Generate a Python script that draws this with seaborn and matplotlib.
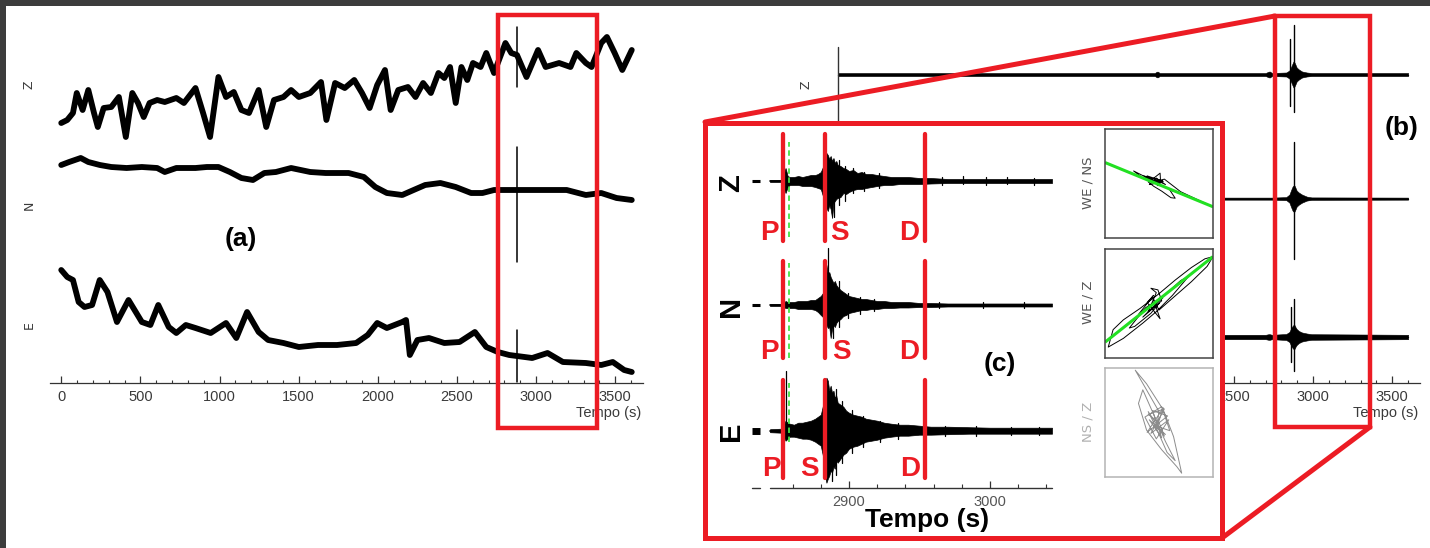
import matplotlib
matplotlib.use("Agg")
import matplotlib.pyplot as plt
from matplotlib.patches import Rectangle
from matplotlib.ticker import MultipleLocator, FixedLocator
import pandas as pd
import seaborn as sns

sns.set_theme(style="white")
plt.rcParams["font.family"] = ["Liberation Sans", "DejaVu Sans"]

# ---------------------------------------------------------------- data
components = ["Z", "N", "E"]

# (a) raw one-hour record: time (s) and trace level (display units above the time axis)
t_z = [0, 38, 74, 98, 135, 171, 207, 231, 268, 316, 364, 408, 449, 485, 521, 558, 606, 654,
       727, 775, 848, 896, 940, 993, 1041, 1090, 1138, 1186, 1247, 1295, 1344, 1404, 1452,
       1501, 1573, 1641, 1675, 1730, 1791, 1851, 1900, 1948, 1996, 2045, 2081, 2129, 2190,
       2238, 2286, 2335, 2383, 2420, 2456, 2492, 2528, 2565, 2601, 2649, 2685, 2734, 2806,
       2843, 2879, 2939, 3012, 3060, 3145, 3217, 3254, 3314, 3350, 3411, 3447, 3496, 3544, 3604]
z_raw = [260, 263, 270, 290, 273, 293, 270, 256, 275, 276, 286, 246, 290, 280, 266, 280, 283,
         281, 285, 280, 295, 270, 246, 306, 286, 291, 273, 270, 293, 256, 283, 286, 293, 286,
         290, 301, 263, 300, 295, 303, 290, 275, 298, 313, 273, 293, 296, 286, 300, 290, 310,
         305, 316, 280, 316, 303, 320, 316, 330, 310, 340, 330, 328, 306, 333, 316, 320, 316,
         330, 320, 316, 340, 346, 330, 313, 333]
t_n = [0, 50, 123, 171, 244, 316, 413, 509, 606, 654, 727, 848, 920, 993, 1065, 1138, 1211,
       1283, 1356, 1452, 1573, 1670, 1815, 1912, 1984, 2057, 2154, 2226, 2299, 2395, 2492,
       2589, 2661, 2734, 2806, 2879, 2975, 3072, 3193, 3314, 3411, 3508, 3604]
n_raw = [218, 221, 225, 221, 218, 216, 215, 216, 215, 211, 215, 215, 216, 216, 211, 205, 203,
         210, 211, 215, 211, 210, 210, 206, 196, 190, 188, 193, 198, 200, 196, 190, 190, 193,
         193, 193, 193, 193, 193, 188, 190, 185, 183]
t_e = [0, 38, 74, 110, 147, 195, 243, 292, 352, 425, 509, 563, 613, 679, 727, 787, 848, 944,
       1041, 1106, 1174, 1247, 1307, 1404, 1501, 1622, 1742, 1863, 1936, 1996, 2057, 2154,
       2178, 2202, 2250, 2323, 2420, 2516, 2613, 2685, 2758, 2830, 2975, 3072, 3169, 3314,
       3411, 3484, 3556, 3604]
e_raw = [113, 106, 103, 81, 76, 78, 103, 91, 61, 83, 61, 58, 78, 56, 50, 58, 55, 50, 60, 45,
         71, 51, 43, 40, 36, 38, 38, 40, 48, 60, 55, 61, 63, 28, 43, 45, 40, 41, 51, 36, 31,
         28, 25, 30, 21, 20, 18, 21, 13, 11]
event_t = 2879
raw_spike = {"Z": (296, 356), "N": (121, 236), "E": (1, 53)}

# (b) filtered record: trace levels, half-width of the trace envelope, spikes (t, low, high)
b_level = {"Z": 308.5, "N": 184.4, "E": 46}
b_t = [0, 2000, 2012, 2020, 2030, 2700, 2718, 2726, 2740, 2830, 2850, 2862, 2870, 2876,
       2882, 2888, 2896, 2910, 2930, 2960, 2990, 3600]
b_half = {
    "Z": [1.5, 1.5, 2.8, 2.8, 1.5, 1.5, 2.8, 3, 1.5, 2, 4, 8, 11, 13, 12, 10, 7, 5, 3, 2, 1.5, 1.5],
    "N": [1, 1, 1, 1, 1, 1, 1, 1, 1, 1.5, 4, 9, 12, 13, 13, 11, 8, 6, 4, 2, 1.2, 1],
    "E": [2.2, 2.2, 2.2, 2.2, 2.2, 2.2, 2.8, 2.8, 2.2, 3, 5, 9, 11, 12, 12, 10, 8, 6, 4.5, 3.5, 2.8, 2.2],
}
b_spikes = {
    "Z": [(2882, -37.5, 50), (2855, -31, 36)],
    "N": [(2882, -60, 57)],
    "E": [(2882, -33.6, 38), (2862, -25, 30)],
}

# (c) zoom on the event: envelope of each component around its trace level
c_level = {"Z": 307, "N": 183, "E": 57.3}
c_t = [2844, 2852, 2853.5, 2855, 2856.5, 2858, 2861, 2864, 2867, 2870, 2873, 2876, 2878,
       2880, 2881.5, 2883, 2884, 2885, 2886, 2887, 2888, 2889, 2890, 2891, 2892, 2894, 2896,
       2898, 2900, 2903, 2906, 2909, 2912, 2916, 2920, 2925, 2930, 2936, 2942, 2950, 2958,
       2970, 2985, 3000, 3020, 3044]
c_up = {
    "Z": [1, 1, 6, 13, 5, 4, 4, 5, 4, 5, 6, 6, 7, 9, 14, 24, 28, 26, 22, 25, 20, 23, 18, 20,
          16, 15, 13, 12, 10, 11, 8, 9, 7, 7, 6, 5, 4, 4, 4, 3, 3, 2, 2, 2, 2, 2],
    "N": [1, 1, 2, 4, 3, 3, 3, 4, 4, 4, 5, 5, 7, 9, 12, 20, 40, 30, 33, 28, 25, 22, 24, 20,
          18, 15, 13, 11, 9, 8, 7, 6, 6, 5, 4, 4, 3, 3, 3, 2, 2, 1.5, 1.5, 1.5, 1.5, 1.5],
    "E": [1.5, 2, 5, 10, 8, 7, 6, 8, 8, 9, 10, 12, 14, 16, 25, 45, 53, 50, 40, 45, 38, 40, 33,
          35, 28, 26, 24, 20, 18, 16, 15, 14, 12, 11, 10, 8, 7, 6, 6, 5, 4, 4, 3.5, 3, 3, 3],
}
c_down = {
    "Z": [-1, -1, -6, -12, -6, -4, -4, -4, -5, -5, -5, -6, -7, -8, -15, -22, -27, -30, -24,
          -28, -37, -22, -20, -18, -17, -16, -12, -13, -11, -9, -8, -8, -7, -6, -5, -4, -4,
          -3, -3, -3, -2.5, -2, -2, -2, -2, -2],
    "N": [-1, -1, -2, -3, -3, -3, -3, -4, -4, -4, -4, -5, -7, -10, -12, -18, -20, -23, -22,
          -33, -24, -20, -22, -18, -16, -14, -11, -10, -8, -7, -6, -5, -5, -4, -4, -3, -3,
          -2.5, -2.5, -2, -2, -1.5, -1.5, -1.5, -1.5, -1.5],
    "E": [-1.5, -2, -5, -10, -8, -6, -6, -7, -8, -8, -9, -11, -13, -15, -25, -45, -52, -48,
          -45, -40, -42, -36, -38, -30, -32, -28, -24, -22, -18, -16, -15, -13, -11, -10, -9,
          -7, -6, -5, -5, -4, -4, -3.5, -3, -3, -3, -3],
}
c_pre = [2831, 2837]
# isolated peaks standing out of the envelope (t, low, high)
c_spikes = {
    "Z": [(2889.5, -36, 12), (2893, -24, 21), (2897, -20, 15), (2903, -12, 13),
          (2911, -10, 9), (2921, -7, 8), (2966, -4, 4), (2981, -3, 5), (2997, -4, 4),
          (3012, -3, 4), (3031, -4, 3)],
    "N": [(2885, 0, 57), (2888.5, -33, 20), (2893, -22, 24), (2899, -13, 12),
          (2908, -9, 8), (2918, -6, 6), (2964, -3, 3), (2995, -3, 3), (3024, -3, 3)],
    "E": [(2855, 0, 60), (2888, -50, 38), (2891, -44, 42), (2895, -32, 30),
          (2902, -22, 21), (2910, -16, 15), (2922, -11, 10), (2935, -8, 8),
          (2968, -5, 5), (2990, -5, 5), (3015, -4, 4), (3035, -4, 4)],
}
phase_t = {"P": 2853, "S": 2883, "D": 2954}
pick_t = 2857.5

# particle-motion (hodogram) traces, normalised amplitudes
h1_we = [0.00, -0.25, -0.47, -0.30, -0.12, 0.02, 0.03, -0.18, -0.05, 0.12, -0.22, 0.08,
         -0.14, 0.10, 0.40, 0.70, 1.00, 0.75, 0.45, 0.20, 0.30, 0.22, 0.05, -0.10, -0.20,
         -0.08, 0.06, -0.02, -0.15, -0.28, -0.10, 0.00]
h1_ns = [0.00, 0.12, 0.23, 0.10, 0.08, 0.19, 0.02, -0.02, 0.10, -0.02, 0.14, 0.04, 0.02,
         0.08, -0.15, -0.29, -0.43, -0.32, -0.20, -0.12, -0.27, -0.26, -0.14, -0.05, 0.03,
         0.06, 0.05, -0.04, 0.10, 0.14, 0.02, 0.00]
h1_fit = [0.385, -0.427]
h2_we = [0.00, -0.20, -0.05, -0.15, -0.02, 0.05, -0.30, -0.10, 0.07, -0.25, -0.38, -0.10,
         -0.22, 0.02, -0.12, 0.00, 0.30, 0.60, 0.89, 1.00, 0.85, 0.60, 0.30, 0.00, -0.35,
         -0.66, -0.85, -0.94, -0.66, -0.30, -0.05, 0.25, 0.55, 0.40, 0.10, -0.25, -0.55,
         -0.45, -0.15, 0.00]
h2_z = [0.00, -0.15, 0.20, 0.28, 0.25, 0.05, -0.25, -0.05, 0.10, -0.10, -0.20, 0.15, 0.02,
        -0.28, 0.12, -0.12, 0.14, 0.40, 0.68, 0.86, 0.82, 0.66, 0.43, 0.18, -0.09, -0.30,
        -0.48, -0.80, -0.64, -0.36, -0.15, 0.15, 0.50, 0.42, 0.15, -0.08, -0.45, -0.42,
        -0.18, 0.00]
h2_fit = [-0.71, 0.86]
h3_ns = [0.00, -0.20, 0.10, -0.15, 0.18, -0.05, -0.26, 0.05, 0.20, -0.10, 0.12, -0.18,
         0.05, -0.12, 0.16, -0.22, 0.08, -0.05, 0.00, -0.44, -0.23, 0.08, 0.27, 0.42, 0.33,
         0.05, -0.23, -0.38, -0.30, -0.10, 0.12, 0.30, 0.15, -0.05, -0.20, 0.10, 0.00]
h3_z = [0.00, 0.15, 0.25, -0.20, 0.05, -0.30, 0.10, 0.29, -0.15, -0.05, -0.22, 0.05, -0.28,
        0.22, 0.12, -0.18, 0.27, -0.12, 0.20, 0.96, 0.71, 0.23, -0.26, -0.93, -0.81, -0.50,
        -0.14, 0.35, 0.60, 0.15, -0.35, -0.70, -0.55, -0.10, 0.20, -0.25, 0.00]

tempo_ticks = [0, 500, 1000, 1500, 2000, 2500, 3000, 3500]

# ---------------------------------------------------------------- figure
W, H = 1430, 548
RED = "#ec1c24"
GREEN = "#44e044"
AXIS_GREY = "#333333"
LABEL_GREY = "#3a3a3a"

fig = plt.figure(figsize=(W / 100, H / 100), dpi=100)
fig.patch.set_facecolor("white")


def px_axes(x0, y0, x1, y1, **kw):
    return fig.add_axes([x0 / W, 1 - y1 / H, (x1 - x0) / W, (y1 - y0) / H], **kw)


def fig_xy(x, y):
    return x / W, 1 - y / H


def record_axes(x_left):
    ax = px_axes(x_left, 15, x_left + 593, 383, zorder=1)
    ax.set_facecolor("none")
    for side in ("left", "right", "top"):
        ax.spines[side].set_visible(False)
    ax.spines["bottom"].set_color(AXIS_GREY)
    ax.spines["bottom"].set_linewidth(0.9)
    ax.text(*fig_xy(x_left + 591, 413), "Tempo (s)", transform=fig.transFigure,
            ha="right", va="center", fontsize=10.5, color=LABEL_GREY)
    for name, y in zip(components, (85, 205, 325)):
        ax.text(*fig_xy(x_left - 21, y), name, transform=fig.transFigure, rotation=90,
                ha="center", va="center", fontsize=9, color=LABEL_GREY,
                family="DejaVu Sans")
    return ax


def finish_record_axes(ax):
    ax.set_xlim(-71, 3675)
    ax.set_ylim(0, 368)
    ax.set_xlabel("")
    ax.set_ylabel("")
    ax.set_yticks([])
    ax.set_xticks(tempo_ticks)
    ax.xaxis.set_minor_locator(MultipleLocator(100))
    ax.tick_params(axis="x", which="both", bottom=True, direction="in", color=AXIS_GREY,
                   labelcolor=LABEL_GREY, labelsize=10.5, pad=5)
    ax.tick_params(axis="x", which="major", length=5, width=0.9)
    ax.tick_params(axis="x", which="minor", length=2.5, width=0.8)


# (a) raw record
ax_a = record_axes(50)
raw = pd.concat([
    pd.DataFrame({"t": t_z, "amp": z_raw, "comp": "Z"}),
    pd.DataFrame({"t": t_n, "amp": n_raw, "comp": "N"}),
    pd.DataFrame({"t": t_e, "amp": e_raw, "comp": "E"}),
])
sns.lineplot(data=raw, x="t", y="amp", units="comp", estimator=None, sort=False,
             color="black", lw=4.2, solid_joinstyle="round", ax=ax_a)
for comp in components:
    lo, hi = raw_spike[comp]
    ax_a.plot([event_t, event_t], [lo, hi], color="black", lw=1.1)
finish_record_axes(ax_a)

# (b) filtered record
ax_b = record_axes(827)
for comp in components:
    lev = b_level[comp]
    half = b_half[comp]
    ax_b.fill_between(b_t, [lev - h for h in half], [lev + h for h in half],
                      color="black", lw=0.4)
    sns.lineplot(x=b_t, y=[lev] * len(b_t), color="black", lw=1.0, ax=ax_b)
    for ts, lo, hi in b_spikes[comp]:
        ax_b.plot([ts, ts], [lev + lo, lev + hi], color="black", lw=1.0)
ax_b.plot([0, 0], [0, 336], color=AXIS_GREY, lw=1.0)
finish_record_axes(ax_b)

# white card holding the zoomed view
ax_card = px_axes(704, 122, 1222, 539, zorder=2)
ax_card.set_facecolor("white")
ax_card.set_xticks([])
ax_card.set_yticks([])
for sp in ax_card.spines.values():
    sp.set_visible(False)

# (c) zoom on the event
ax_c = px_axes(751, 130, 1052, 488, zorder=3)
ax_c.set_facecolor("none")
for comp in components:
    lev = c_level[comp]
    ax_c.fill_between(c_t, [lev + d for d in c_down[comp]], [lev + u for u in c_up[comp]],
                      color="black", lw=0.5)
    sns.lineplot(x=[c_t[0], c_t[-1]], y=[lev, lev], color="black", lw=1.2, ax=ax_c)
    ax_c.plot(c_pre, [lev, lev], color="black", lw=2.2 if comp != "E" else 5,
              solid_capstyle="butt")
    for ts, lo, hi in c_spikes[comp]:
        ax_c.plot([ts, ts], [lev + lo, lev + hi], color="black", lw=0.9)
ax_c.plot(c_pre, [0, 0], color=AXIS_GREY, lw=1.0, clip_on=False)
ax_c.plot([2844, 3044], [0, 0], color=AXIS_GREY, lw=1.0, clip_on=False)

row_span = {"Z": (247, 354), "N": (130, 227), "E": (10, 108)}
pick_span = {"Z": (251, 346), "N": (130, 225), "E": (46, 105)}
label_y = {"Z": 255, "N": 136, "E": 19}
label_t = {"Z": [2843.3, 2892.9, 2942.6], "N": [2843.3, 2895.0, 2942.6],
           "E": [2844.7, 2872.3, 2943.3]}
for comp in components:
    lo, hi = row_span[comp]
    for ph, tp in phase_t.items():
        ax_c.plot([tp, tp], [lo, hi], color=RED, lw=3.1, solid_capstyle="round",
                  clip_on=False)
    plo, phi = pick_span[comp]
    ax_c.plot([pick_t, pick_t], [plo, phi], color=GREEN, lw=1.3, dashes=(3, 2))
    for ph, tl in zip(phase_t, label_t[comp]):
        ax_c.text(tl, label_y[comp], ph, color=RED, fontsize=20, fontweight="bold",
                  ha="center", va="center")
for comp, y in zip(components, (183, 306, 431)):
    ax_c.text(*fig_xy(731, y), comp, transform=fig.transFigure, rotation=90,
              ha="center", va="center", fontsize=21, fontweight="bold", color="black")
ax_c.text(*fig_xy(927, 520), "Tempo (s)", transform=fig.transFigure, ha="center",
          va="center", fontsize=19, fontweight="bold", color="black")
ax_c.set_xlim(2830.5, 3044)
ax_c.set_ylim(0, 358)
ax_c.set_xlabel("")
ax_c.set_ylabel("")
ax_c.set_yticks([])
ax_c.set_xticks([2900, 3000])
ax_c.xaxis.set_minor_locator(FixedLocator([2860, 2880, 2920, 2940, 2960, 2980, 3020, 3040]))
for sp in ax_c.spines.values():
    sp.set_visible(False)
ax_c.tick_params(axis="x", which="both", bottom=True, direction="in", color=AXIS_GREY,
                 labelcolor="#555555", labelsize=10.5, pad=5)
ax_c.tick_params(axis="x", which="major", length=5, width=0.9)
ax_c.tick_params(axis="x", which="minor", length=3, width=0.8)

# hodograms
hodos = [
    ((1105, 129, 1213, 238), h1_we, h1_ns, h1_fit, "WE / NS", "black", "#444444", "#555555", 183),
    ((1105, 249, 1213, 358), h2_we, h2_z, h2_fit, "WE / Z", "black", "#444444", "#555555", 302),
    ((1105, 368, 1213, 477), h3_ns, h3_z, None, "NS / Z", "#8c8c8c", "#b4b4b4", "#b0b0b0", 422),
]
for box, hx, hy, fit, title, lc, frame_c, title_c, ty in hodos:
    ax_h = px_axes(*box, zorder=3)
    ax_h.set_facecolor("white")
    sns.lineplot(x=hx, y=hy, sort=False, estimator=None, color=lc, lw=0.7, ax=ax_h)
    if fit is not None:
        ax_h.plot([-1, 1], fit, color="#22e022", lw=2.2, solid_capstyle="butt")
    ax_h.set_xlim(-1, 1)
    ax_h.set_ylim(-1, 1)
    ax_h.set_xticks([])
    ax_h.set_yticks([])
    ax_h.set_xlabel("")
    ax_h.set_ylabel("")
    for sp in ax_h.spines.values():
        sp.set_color(frame_c)
        sp.set_linewidth(1.1)
    ax_h.text(*fig_xy(1088, ty), title, transform=fig.transFigure, rotation=90,
              ha="center", va="center", fontsize=9.5, color=title_c, family="DejaVu Sans")

# overlay: frames, zoom boxes, connectors and panel letters
ax_fg = px_axes(0, 0, W, H, zorder=10)
ax_fg.set_xlim(0, W)
ax_fg.set_ylim(H, 0)
ax_fg.axis("off")
ax_fg.add_patch(Rectangle((0, 0), W, 6, color="#3c3c3c", lw=0))
ax_fg.add_patch(Rectangle((0, 0), 6, H, color="#3c3c3c", lw=0))
ax_fg.add_patch(Rectangle((498, 15), 99, 413, fill=False, ec=RED, lw=3.2))
ax_fg.add_patch(Rectangle((1275, 16), 95, 411, fill=False, ec=RED, lw=3.2))
ax_fg.add_patch(Rectangle((705, 123), 517, 415, fill=False, ec=RED, lw=3.6))
ax_fg.plot([705, 1275], [122, 16], color=RED, lw=3.6, solid_capstyle="round")
ax_fg.plot([1222, 1370], [538, 427], color=RED, lw=3.6, solid_capstyle="round")
for txt, x, y in (("(a)", 241, 239), ("(b)", 1402, 128), ("(c)", 1000, 364)):
    ax_fg.text(x, y, txt, ha="center", va="center", fontsize=19, fontweight="bold",
               color="black")

fig.savefig("out.png", dpi=100)
